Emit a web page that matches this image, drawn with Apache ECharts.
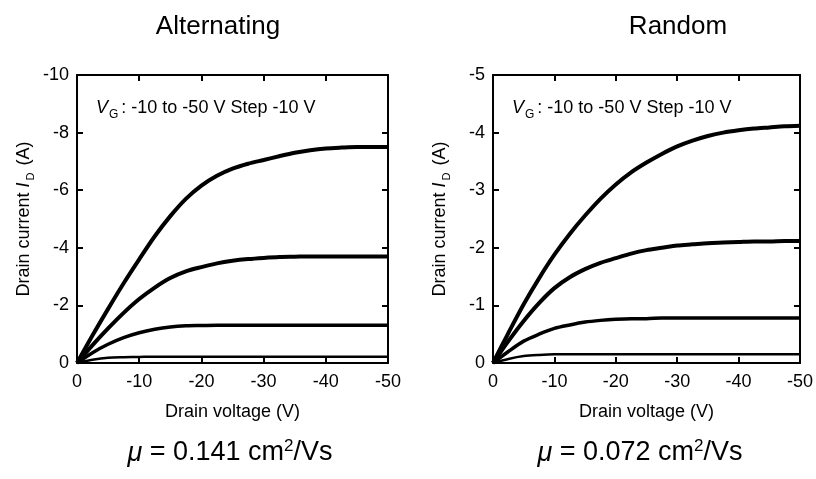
<!DOCTYPE html>
<html>
<head>
<meta charset="utf-8">
<script src="https://cdn.jsdelivr.net/npm/echarts@6/dist/echarts.min.js"></script>
<style>html,body{margin:0;padding:0;background:#fff}#c{width:816px;height:479px}</style>
</head>
<body>
<div id="c"></div>
<script>
// Drain voltage sample points (V)
const drainVoltage = [0, -2.5, -5, -7.5, -10, -12.5, -15, -17.5, -20, -22.5, -25,
  -27.5, -30, -32.5, -35, -37.5, -40, -42.5, -45, -47.5, -50];
// Alternating: drain current (A), curves from top (VG = -50 V) downwards
const altCurve1 = [0, -0.96, -1.88, -2.77, -3.6, -4.4, -5.1, -5.7, -6.16, -6.5, -6.75,
  -6.92, -7.05, -7.18, -7.3, -7.39, -7.45, -7.48, -7.5, -7.5, -7.5];
const altCurve2 = [0, -0.62, -1.2, -1.74, -2.22, -2.62, -2.95, -3.18, -3.33, -3.46, -3.55,
  -3.61, -3.65, -3.68, -3.69, -3.7, -3.7, -3.7, -3.7, -3.7, -3.7];
const altCurve3 = [0, -0.36, -0.65, -0.88, -1.05, -1.17, -1.25, -1.29, -1.3, -1.31, -1.31,
  -1.31, -1.31, -1.31, -1.31, -1.31, -1.31, -1.31, -1.31, -1.31, -1.31];
const altCurve4 = [0, -0.11, -0.18, -0.2, -0.21, -0.22, -0.22, -0.22, -0.22, -0.22, -0.22,
  -0.22, -0.22, -0.22, -0.22, -0.22, -0.22, -0.22, -0.22, -0.22, -0.22];
// Random: drain current (A)
const rndCurve1 = [0, -0.52, -1.02, -1.47, -1.88, -2.24, -2.56, -2.85, -3.1, -3.31, -3.48,
  -3.63, -3.76, -3.86, -3.94, -4.0, -4.04, -4.07, -4.09, -4.11, -4.12];
const rndCurve2 = [0, -0.38, -0.73, -1.04, -1.3, -1.49, -1.63, -1.74, -1.82, -1.9, -1.96,
  -2.0, -2.04, -2.06, -2.08, -2.09, -2.1, -2.11, -2.11, -2.12, -2.12];
const rndCurve3 = [0, -0.2, -0.38, -0.5, -0.6, -0.66, -0.71, -0.74, -0.76, -0.77, -0.77,
  -0.78, -0.78, -0.78, -0.78, -0.78, -0.78, -0.78, -0.78, -0.78, -0.78];
const rndCurve4 = [0, -0.07, -0.12, -0.14, -0.15, -0.15, -0.15, -0.15, -0.15, -0.15, -0.15,
  -0.15, -0.15, -0.15, -0.15, -0.15, -0.15, -0.15, -0.15, -0.15, -0.15];

const panelTitles = ['Alternating', 'Random'];
const mobilityTexts = ['0.141', '0.072'];
const xRange = {min: -50, max: 0, interval: 10};
const yRanges = [{min: -10, max: 0, interval: 2}, {min: -5, max: 0, interval: 1}];
const xAxisTitle = 'Drain voltage (V)';

const FONT = '"Liberation Sans", Arial, Helvetica, sans-serif';
const chart = echarts.init(document.getElementById('c'));

const grids = [
  {left: 77, top: 75, width: 311, height: 288},
  {left: 493, top: 75, width: 310, height: 288}
];

const axisLine = {show: true, onZero: false, lineStyle: {color: '#000', width: 2}};
const axisTick = {show: true, inside: true, length: 6, lineStyle: {color: '#000', width: 2}};

const xAxes = [], yAxes = [];
grids.forEach((g, gi) => {
  xAxes.push({
    type: 'value', gridIndex: gi, position: 'bottom', inverse: true,
    min: xRange.min, max: xRange.max, interval: xRange.interval,
    axisLine, axisTick, splitLine: {show: false},
    axisLabel: {color: '#000', fontSize: 18, fontFamily: FONT, margin: 10},
    name: xAxisTitle, nameLocation: 'middle', nameGap: 40,
    nameTextStyle: {color: '#000', fontSize: 18, fontFamily: FONT}
  });
  xAxes.push({
    type: 'value', gridIndex: gi, position: 'top', inverse: true,
    min: xRange.min, max: xRange.max, interval: xRange.interval,
    axisLine, axisTick, splitLine: {show: false}, axisLabel: {show: false}
  });
  const yr = yRanges[gi];
  yAxes.push({
    type: 'value', gridIndex: gi, position: 'left', inverse: true,
    min: yr.min, max: yr.max, interval: yr.interval,
    axisLine, axisTick, splitLine: {show: false},
    axisLabel: {color: '#000', fontSize: 18, fontFamily: FONT, margin: 8},
    name: '{a|Drain current }{i|I}{s|D}{a| (A)}', nameLocation: 'middle', nameGap: 44,
    nameTextStyle: {
      color: '#000', fontSize: 18, fontFamily: FONT,
      rich: {
        a: {fontSize: 18, fontFamily: FONT, color: '#000', lineHeight: 18},
        i: {fontSize: 18, fontFamily: FONT, color: '#000', fontStyle: 'italic', lineHeight: 18},
        s: {fontSize: 11, fontFamily: FONT, color: '#000', lineHeight: 11, padding: [14, 2, 0, 2]}
      }
    }
  });
  yAxes.push({
    type: 'value', gridIndex: gi, position: 'right', inverse: true,
    min: yr.min, max: yr.max, interval: yr.interval,
    axisLine, axisTick, splitLine: {show: false}, axisLabel: {show: false}
  });
});

function mk(arr, gi, w) {
  return {
    type: 'line', xAxisIndex: gi * 2, yAxisIndex: gi * 2, smooth: 0.3,
    symbol: 'none',
    lineStyle: {color: '#000', width: w},
    data: drainVoltage.map((v, i) => [v, arr[i]])
  };
}
const series = [
  mk(altCurve1, 0, 4), mk(altCurve2, 0, 4), mk(altCurve3, 0, 3.5), mk(altCurve4, 0, 2.5),
  mk(rndCurve1, 1, 4), mk(rndCurve2, 1, 4), mk(rndCurve3, 1, 3.5), mk(rndCurve4, 1, 2.5)
];

const vgRich = {
  i: {fontSize: 18, fontFamily: FONT, fill: '#000', color: '#000', fontStyle: 'italic', lineHeight: 18},
  s: {fontSize: 12, fontFamily: FONT, fill: '#000', color: '#000', lineHeight: 12, padding: [14, 3, 0, 1]},
  a: {fontSize: 18, fontFamily: FONT, fill: '#000', color: '#000', lineHeight: 18}
};
const muRich = {
  i: {fontSize: 27, fontFamily: FONT, fill: '#000', color: '#000', fontStyle: 'italic', lineHeight: 27},
  a: {fontSize: 27, fontFamily: FONT, fill: '#000', color: '#000', lineHeight: 27},
  p: {fontSize: 17, fontFamily: FONT, fill: '#000', color: '#000', lineHeight: 17, padding: [0, 0, 14, 0]}
};
const titleX = [218, 678];
const muX = [230, 640];
const vgX = [96, 512];
const graphic = [];
panelTitles.forEach((t, i) => {
  graphic.push({type: 'text', x: titleX[i], y: 27, style: {text: t, fill: '#000', font: '26px ' + FONT, align: 'center', verticalAlign: 'middle'}});
  graphic.push({type: 'text', x: muX[i], y: 453, style: {
    text: '{i|μ}{a| = ' + mobilityTexts[i] + ' cm}{p|2}{a|/Vs}', rich: muRich,
    fill: '#000', font: '27px ' + FONT, align: 'center', verticalAlign: 'middle'}});
  graphic.push({type: 'text', x: vgX[i], y: 108, style: {
    text: '{i|V}{s|G}{a|: -10 to -50 V Step -10 V}', rich: vgRich,
    fill: '#000', font: '18px ' + FONT, align: 'left', verticalAlign: 'middle'}});
});

chart.setOption({
  animation: false,
  backgroundColor: '#fff',
  grid: grids,
  xAxis: xAxes,
  yAxis: yAxes,
  series,
  graphic
});
</script>
</body>
</html>
